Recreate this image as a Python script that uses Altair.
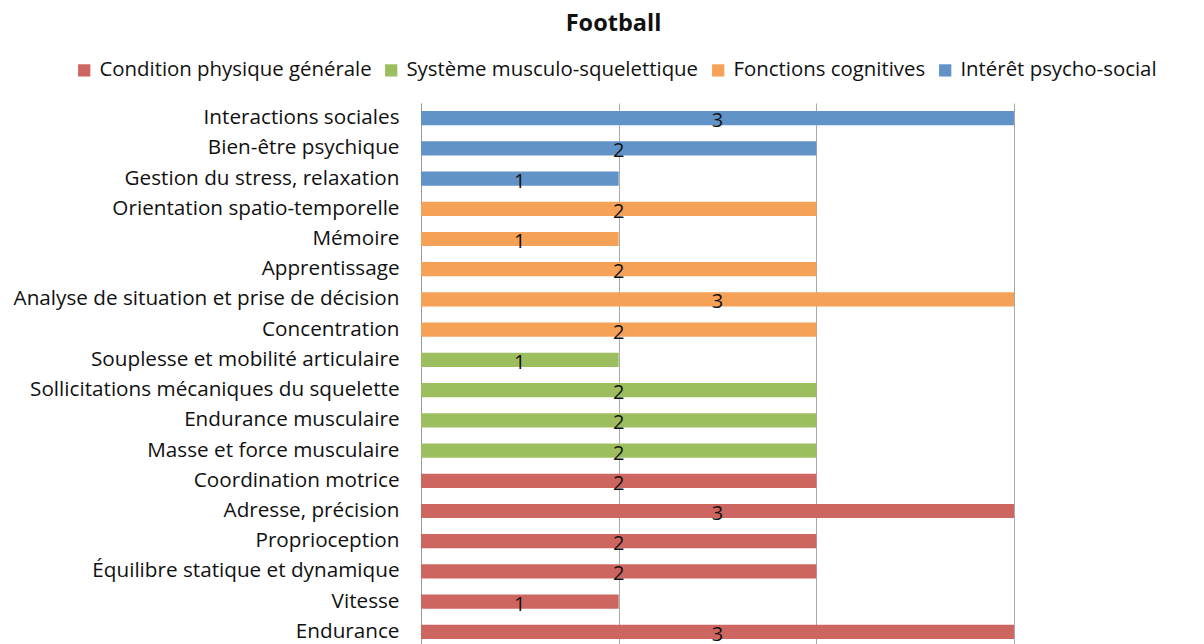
import altair as alt
import pandas as pd

categories = [
    "Interactions sociales",
    "Bien-être psychique",
    "Gestion du stress, relaxation",
    "Orientation spatio-temporelle",
    "Mémoire",
    "Apprentissage",
    "Analyse de situation et prise de décision",
    "Concentration",
    "Souplesse et mobilité articulaire",
    "Sollicitations mécaniques du squelette",
    "Endurance musculaire",
    "Masse et force musculaire",
    "Coordination motrice",
    "Adresse, précision",
    "Proprioception",
    "Équilibre statique et dynamique",
    "Vitesse",
    "Endurance",
]
values = [3, 2, 1, 2, 1, 2, 3, 2, 1, 2, 2, 2, 2, 3, 2, 2, 1, 3]
groups = (
    ["Intérêt psycho-social"] * 3
    + ["Fonctions cognitives"] * 5
    + ["Système musculo-squelettique"] * 4
    + ["Condition physique générale"] * 6
)
group_order = [
    "Condition physique générale",
    "Système musculo-squelettique",
    "Fonctions cognitives",
    "Intérêt psycho-social",
]
group_colors = ["#CD6660", "#9DBE5E", "#F5A157", "#6193C9"]

df = pd.DataFrame({"cat": categories, "val": values, "grp": groups})
df["mid"] = df["val"] / 2

FONT = "Open Sans"
FS = 20.7

y_enc = alt.Y(
    "cat:N",
    sort=categories,
    title=None,
    scale=alt.Scale(paddingInner=0.53, paddingOuter=0.265),
    axis=alt.Axis(
        labelFontSize=FS,
        labelFont=FONT,
        labelColor="#111111",
        labelPadding=22,
        labelLimit=600,
        ticks=False,
        domainColor="#999999",
        grid=False,
    ),
)

bars = alt.Chart(df).mark_bar(cornerRadius=0).encode(
    x=alt.X(
        "val:Q",
        title=None,
        scale=alt.Scale(domain=[0, 3], nice=False),
        axis=alt.Axis(
            values=[0, 1, 2, 3],
            grid=True,
            gridColor="#aaaaaa",
            domain=False,
            ticks=False,
            labels=False,
        ),
    ),
    y=y_enc,
    color=alt.Color(
        "grp:N",
        sort=group_order,
        scale=alt.Scale(domain=group_order, range=group_colors),
        legend=alt.Legend(
            title=None,
            orient="none",
            direction="horizontal",
            legendX=-347,
            legendY=-43,
            symbolType="square",
            symbolSize=150,
            symbolStrokeWidth=0,
            labelFontSize=20.4,
            labelFont=FONT,
            labelColor="#111111",
            labelOffset=5,
            labelLimit=400,
            columnPadding=9,
        ),
    ),
)

labels = alt.Chart(df).mark_text(
    fontSize=20, font=FONT, color="#111111", baseline="middle", dy=3
).encode(
    x="mid:Q",
    y=alt.Y("cat:N", sort=categories),
    text=alt.Text("val:Q", format="d"),
)

chart = (
    alt.layer(bars, labels)
    .properties(
        width=593,
        height=544,
        autosize=alt.AutoSizeParams(type="none"),
        padding={"left": 413, "top": 95, "right": 180, "bottom": 40},
        title=alt.TitleParams(
            "Football",
            font=FONT,
            fontSize=23.5,
            fontWeight="bold",
            color="#111111",
            anchor="middle",
            dx=-104,
            offset=25,
        ),
    )
    .configure_view(stroke=None)
)

chart.save("out.html", embed_options={"renderer": "svg", "actions": False})
